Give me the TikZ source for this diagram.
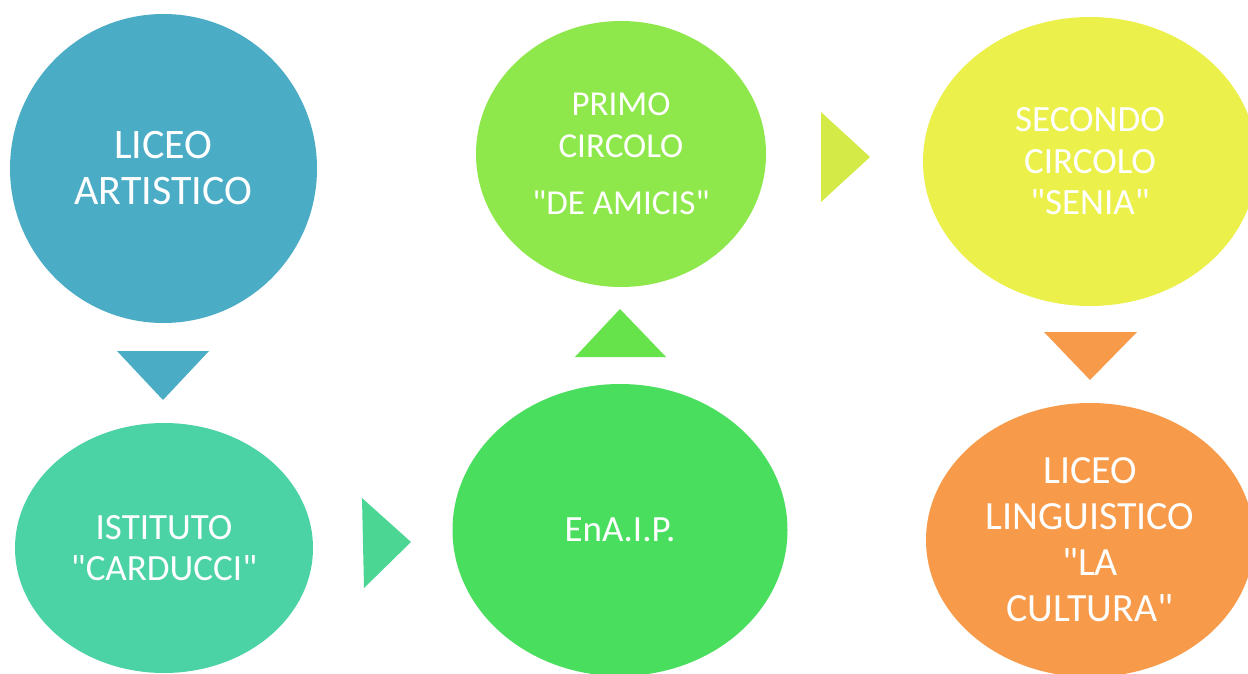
\documentclass[tikz,border=0pt]{standalone}
\usepackage{fontspec}
\setmainfont{Carlito}[Ligatures=TeXOff]
\usetikzlibrary{shapes.geometric}
\definecolor{cblue}{HTML}{4BACC6}
\definecolor{cteal}{HTML}{4BD3A6}
\definecolor{cteala}{HTML}{4BD694}
\definecolor{cgreen}{HTML}{4ADE5E}
\definecolor{cgreena}{HTML}{66E34A}
\definecolor{clime}{HTML}{8FE84B}
\definecolor{climea}{HTML}{D4EA47}
\definecolor{cyellow}{HTML}{ECF04A}
\definecolor{corange}{HTML}{F79A4A}
\begin{document}
\begin{tikzpicture}[x=1pt,y=-1pt,
  bub/.style={ellipse, inner sep=0pt, text=white, align=center}]
\useasboundingbox (0,0) rectangle (1248,674);
\clip (0,0) rectangle (1248,674);
\fill[white] (0,0) rectangle (1248,674);
% bubbles
\node[bub, fill=cblue, minimum width=307pt, minimum height=309pt,
  font=\fontsize{42}{46}\selectfont] (a) at (163.5,168.5) {LICEO\\ARTISTICO};
\node[bub, fill=cteal, minimum width=298pt, minimum height=250pt,
  font=\fontsize{37}{41}\selectfont] (b) at (164,548) {ISTITUTO\\"CARDUCCI"};
\node[bub, fill=cgreen, minimum width=335pt, minimum height=292pt,
  font=\fontsize{37}{41}\selectfont] (c) at (620,530) {EnA.I.P.};
\node[bub, fill=clime, minimum width=290pt, minimum height=266pt,
  font=\fontsize{35}{42}\selectfont] (d) at (621,154) {PRIMO\\CIRCOLO\\[15pt]"DE AMICIS"};
\node[bub, fill=cyellow, minimum width=334pt, minimum height=289pt,
  font=\fontsize{37}{41.5}\selectfont] (e) at (1090,161.5) {SECONDO\\CIRCOLO\\"SENIA"};
\node[bub, fill=corange, minimum width=328pt, minimum height=274pt,
  font=\fontsize{40}{46}\selectfont] (f) at (1090,540) {LICEO\\LINGUISTICO\\"LA\\CULTURA"};
% triangle arrows
\fill[cblue] (117,351) -- (209,351) -- (163,400) -- cycle;
\fill[cteala] (362,498) -- (411,542) -- (364,588) -- cycle;
\fill[cgreena] (575,357) -- (620,309) -- (666,357) -- cycle;
\fill[climea] (821,112) -- (870,157) -- (821,202) -- cycle;
\fill[corange] (1044,332) -- (1137,332) -- (1090,380) -- cycle;
\end{tikzpicture}
\end{document}
